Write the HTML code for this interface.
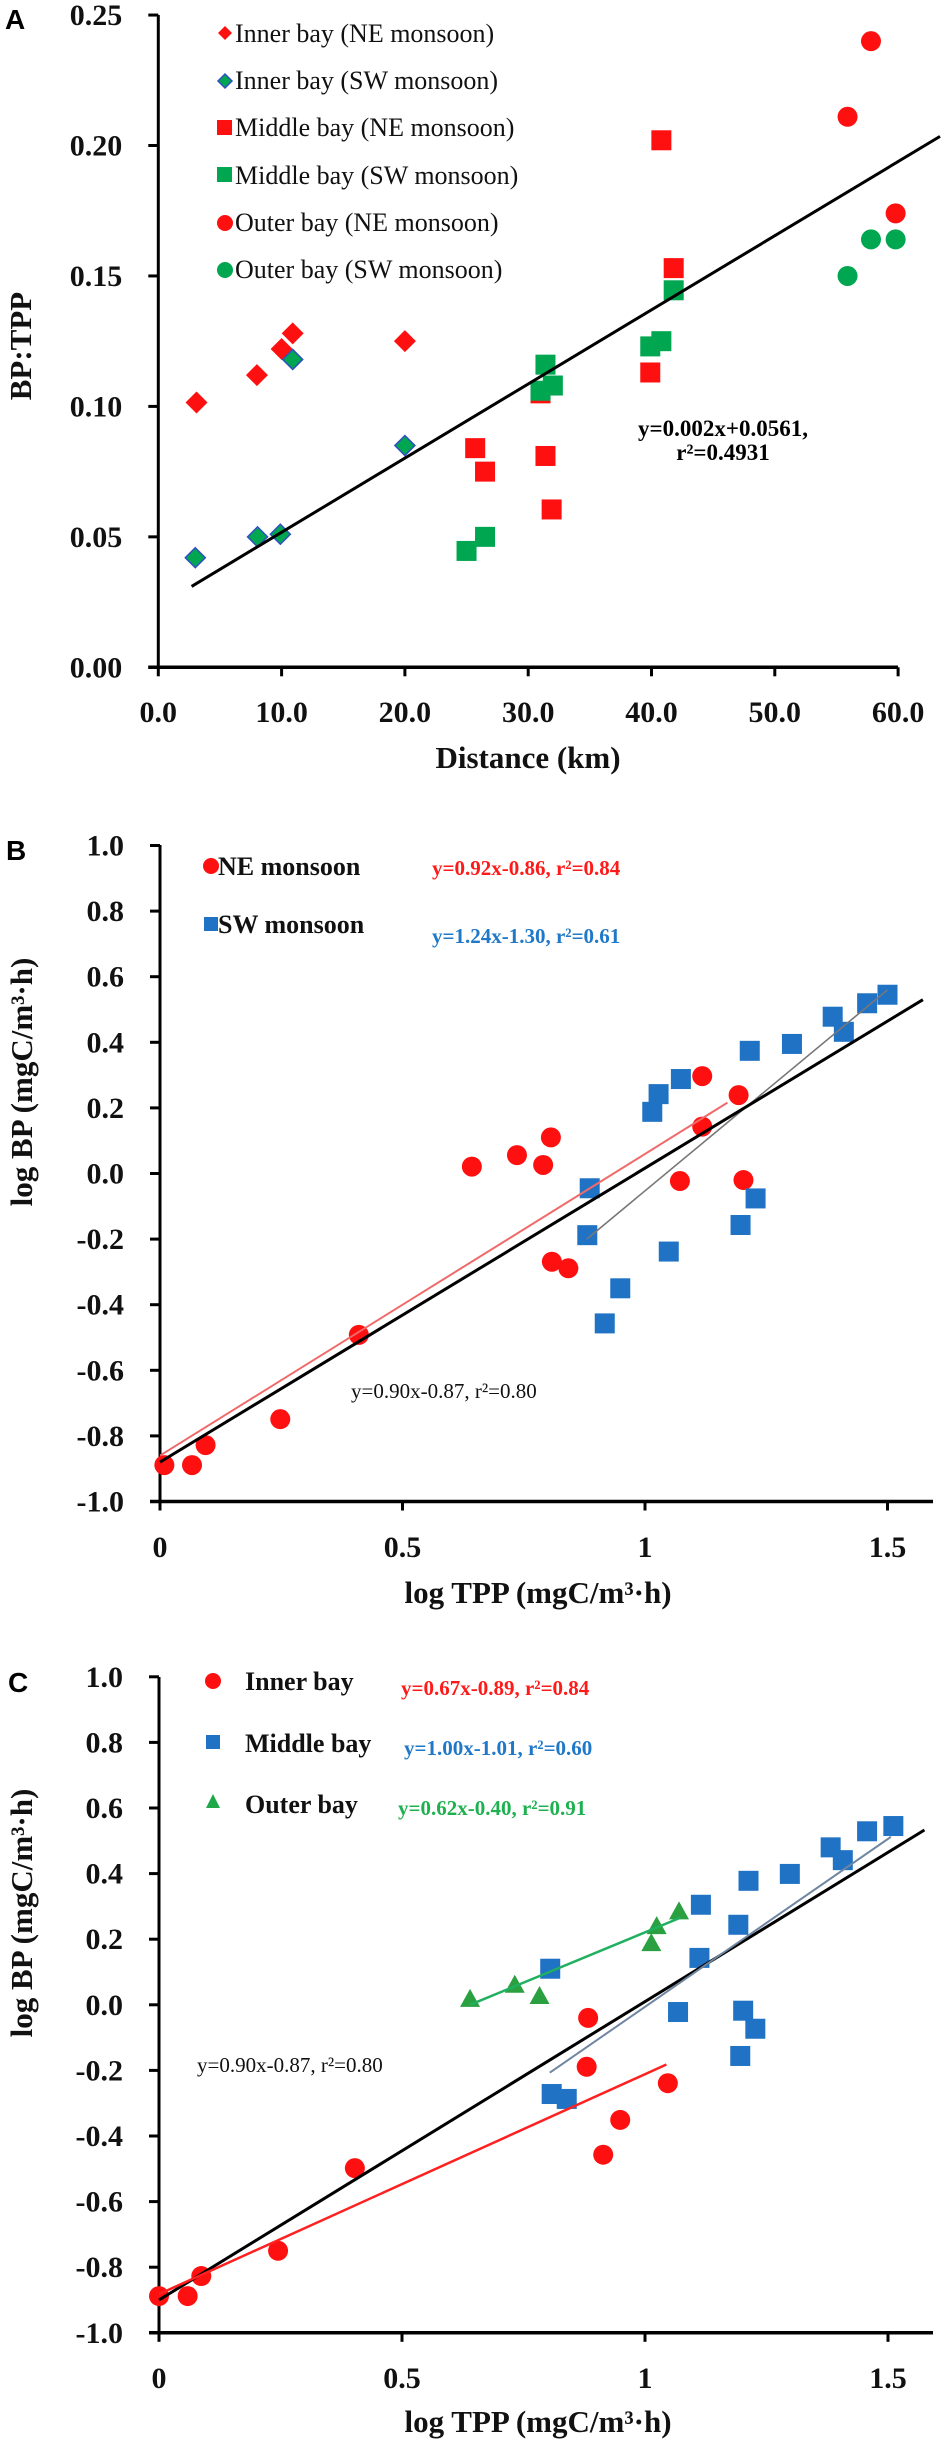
<!DOCTYPE html>
<html><head><meta charset="utf-8">
<style>
html,body{margin:0;padding:0;background:#fff;}
svg{display:block;}
text{font-family:"Liberation Serif",serif;}
.tk{font-size:30px;font-weight:bold;fill:#111;}
.ttl{font-size:31px;font-weight:bold;fill:#111;}
.lg{font-size:26px;fill:#111;}
.lgb{font-size:26px;font-weight:bold;fill:#111;}
.pl{font-family:"Liberation Sans",sans-serif;font-size:28px;font-weight:bold;fill:#000;}
</style></head>
<body>
<svg id="fig" width="950" height="2448" viewBox="0 0 950 2448" xmlns="http://www.w3.org/2000/svg">
  <text class="pl" x="5" y="29">A</text>
  <text class="pl" x="6" y="860">B</text>
  <text class="pl" x="8" y="1692">C</text>

  <text class="ttl" transform="translate(31,346) rotate(-90)" text-anchor="middle">BP:TPP</text>
  <text class="ttl" x="528" y="768" text-anchor="middle">Distance (km)</text>
  <g>
    <text class="lg" x="235" y="42">Inner bay (NE monsoon)</text>
    <text class="lg" x="235" y="89">Inner bay (SW monsoon)</text>
    <text class="lg" x="235" y="136">Middle bay (NE monsoon)</text>
    <text class="lg" x="235" y="184">Middle bay (SW monsoon)</text>
    <text class="lg" x="235" y="231">Outer bay (NE monsoon)</text>
    <text class="lg" x="235" y="278">Outer bay (SW monsoon)</text>
    <polygon points="225,26 232,33 225,40 218,33" fill="#ff1010"/>
    <polygon points="225,74 232,81 225,88 218,81" fill="#00a650" stroke="#3050c0" stroke-width="1.5"/>
    <rect x="217" y="120" width="15" height="15" fill="#ff1010"/>
    <rect x="217" y="167" width="15" height="15" fill="#00a650"/>
    <circle cx="225" cy="223" r="8" fill="#ff1010"/>
    <circle cx="225" cy="270" r="8" fill="#00a650"/>
  </g>
  <text x="723" y="436" text-anchor="middle" style="font-size:23px;font-weight:bold">y=0.002x+0.0561,</text>
  <text x="723" y="460" text-anchor="middle" style="font-size:23px;font-weight:bold">r²=0.4931</text>

  <text class="ttl" transform="translate(32,1082) rotate(-90)" text-anchor="middle">log BP (mgC/m³·h)</text>
  <text class="ttl" x="538" y="1603" text-anchor="middle">log TPP (mgC/m³·h)</text>
  <circle cx="211" cy="866" r="8" fill="#ff1010"/>
  <text class="lgb" x="218" y="875">NE monsoon</text>
  <text x="432" y="875" style="font-size:21px;font-weight:bold;fill:#ff1a1a">y=0.92x-0.86, r²=0.84</text>
  <rect x="204" y="917" width="14" height="14" fill="#1f72c4"/>
  <text class="lgb" x="218" y="933">SW monsoon</text>
  <text x="432" y="943" style="font-size:21px;font-weight:bold;fill:#1f78c8">y=1.24x-1.30, r²=0.61</text>
  <text x="351" y="1398" style="font-size:21px;fill:#111">y=0.90x-0.87,  r²=0.80</text>

  <text class="ttl" transform="translate(32,1913) rotate(-90)" text-anchor="middle">log BP (mgC/m³·h)</text>
  <text class="ttl" x="538" y="2432" text-anchor="middle">log TPP (mgC/m³·h)</text>
  <circle cx="213" cy="1681" r="8" fill="#ff1010"/>
  <text class="lgb" x="245" y="1690">Inner bay</text>
  <text x="401" y="1695" style="font-size:21px;font-weight:bold;fill:#ff1a1a">y=0.67x-0.89, r²=0.84</text>
  <rect x="206" y="1735" width="14" height="14" fill="#1f72c4"/>
  <text class="lgb" x="245" y="1752">Middle bay</text>
  <text x="404" y="1755" style="font-size:21px;font-weight:bold;fill:#1f78c8">y=1.00x-1.01, r²=0.60</text>
  <polygon points="213,1794 220,1808 206,1808" fill="#1fa84a"/>
  <text class="lgb" x="245" y="1813">Outer bay</text>
  <text x="398" y="1815" style="font-size:21px;font-weight:bold;fill:#1fb050">y=0.62x-0.40, r²=0.91</text>
  <text x="197" y="2072" style="font-size:21px;fill:#111">y=0.90x-0.87,  r²=0.80</text>
</svg>
<script>
const aXTicks = [0, 10, 20, 30, 40, 50, 60];
const aXTickLabels = ["0.0","10.0","20.0","30.0","40.0","50.0","60.0"];
const aYTicks = [0, 0.05, 0.10, 0.15, 0.20, 0.25];
const aYTickLabels = ["0.00","0.05","0.10","0.15","0.20","0.25"];
const aInnerNEx = [3.1, 8.0, 10.0, 10.9, 20.0];
const aInnerNEy = [0.1015, 0.112, 0.122, 0.128, 0.125];
const aInnerSWx = [3.0, 8.05, 9.9, 10.9, 20.0];
const aInnerSWy = [0.042, 0.050, 0.051, 0.118, 0.085];
const aMiddleNEx = [40.8, 41.8, 39.9, 31.4, 26.5, 25.7, 31.0, 31.9];
const aMiddleNEy = [0.202, 0.153, 0.113, 0.081, 0.075, 0.084, 0.105, 0.0605];
const aMiddleSWx = [41.8, 40.8, 39.9, 31.4, 32.0, 31.0, 25.0, 26.5];
const aMiddleSWy = [0.1445, 0.125, 0.123, 0.116, 0.108, 0.106, 0.0446, 0.050];
const aOuterNEx = [57.8, 55.9, 59.8];
const aOuterNEy = [0.240, 0.211, 0.174];
const aOuterSWx = [57.8, 59.8, 55.9];
const aOuterSWy = [0.164, 0.164, 0.150];
const aFitX = [2.7, 63.4];
const aFitY = [0.031, 0.2035];

const logXTicks = [0, 0.5, 1, 1.5];
const logXTickLabels = ["0","0.5","1","1.5"];
const logYTicks = [-1.0,-0.8,-0.6,-0.4,-0.2,0.0,0.2,0.4,0.6,0.8,1.0];
const logYTickLabels = ["-1.0","-0.8","-0.6","-0.4","-0.2","0.0","0.2","0.4","0.6","0.8","1.0"];
const bNEx = [0.009,0.066,0.094,0.248,0.41,0.643,0.736,0.790,0.806,0.808,0.842,1.072,1.118,1.118,1.193,1.203];
const bNEy = [-0.889,-0.889,-0.828,-0.749,-0.492,0.021,0.056,0.026,0.110,-0.269,-0.289,-0.023,0.297,0.143,0.239,-0.020];
const bSWx = [0.886,0.881,0.917,0.949,1.015,1.028,1.074,1.049,1.197,1.228,1.216,1.303,1.387,1.41,1.458,1.50];
const bSWy = [-0.045,-0.188,-0.457,-0.350,0.188,0.242,0.288,-0.238,-0.157,-0.076,0.374,0.395,0.478,0.432,0.519,0.545];
const bAllFitX = [0, 1.573];
const bAllFitY = [-0.88, 0.53];
const bNEFitX = [0, 1.17];
const bNEFitY = [-0.86, 0.216];
const bSWFitX = [0.88, 1.50];
const bSWFitY = [-0.20, 0.56];

const cInnerX = [0,0.059,0.087,0.245,0.403,0.883,0.880,1.047,0.949,0.914];
const cInnerY = [-0.888,-0.888,-0.827,-0.75,-0.498,-0.040,-0.189,-0.239,-0.351,-0.457];
const cMiddleX = [0.805,0.808,0.839,1.068,1.115,1.112,1.192,1.202,1.227,1.196,1.213,1.298,1.382,1.407,1.457,1.511];
const cMiddleY = [0.110,-0.272,-0.287,-0.022,0.305,0.143,0.244,-0.018,-0.073,-0.156,0.378,0.399,0.480,0.441,0.529,0.545];
const cOuterX = [0.640,0.732,0.783,1.013,1.024,1.070];
const cOuterY = [0.018,0.061,0.027,0.188,0.240,0.285];
const cAllFitX = [0, 1.575];
const cAllFitY = [-0.90, 0.533];
const cInnerFitX = [0, 1.044];
const cInnerFitY = [-0.882, -0.182];
const cMiddleFitX = [0.804, 1.506];
const cMiddleFitY = [-0.207, 0.512];
const cOuterFitX = [0.64, 1.072];
const cOuterFitY = [0.0, 0.265];

const NS = "http://www.w3.org/2000/svg";
const svg = document.getElementById("fig");
function mk(tag, attrs, parent) {
  const e = document.createElementNS(NS, tag);
  for (const k in attrs) e.setAttribute(k, attrs[k]);
  (parent || svg).appendChild(e);
  return e;
}

const ax = v => 158.3 + 12.33 * v;
const ay = v => 667.3 - 2609 * v;
const bx = v => 160 + 485 * v;
const by = v => 1173.5 - 328 * v;
const cx_ = v => 159 + 486 * v;
const cy_ = v => 2004.8 - 328 * v;

const RED = "#ff1010", GREEN = "#00a650", BLUE = "#1f72c4";

function drawAxes(prefix, xf, yf, xTicks, xLabels, yTicks, yLabels, xEnd, yTop, xLabY) {
  const x0 = xf(xTicks[0]), yB = yf(yTicks[0]);
  const ya = mk("line", {x1:x0, y1:yTop, x2:x0, y2:yB, stroke:"#000", "stroke-width":3});
  
  
  const xa = mk("line", {x1:x0 - 10, y1:yB, x2:xEnd, y2:yB, stroke:"#000", "stroke-width":3.5});
  
  
  for (let i = 0; i < yTicks.length; i++) {
    const y = yf(yTicks[i]);
    const t = mk("line", {x1:x0 - 10, y1:y, x2:x0, y2:y, stroke:"#000", "stroke-width":3});
    
    
    const l = mk("text", {x:x0 - 36, y:y + 10, "text-anchor":"end", class:"tk"});
    l.textContent = yLabels[i];
    
    
  }
  for (let i = 0; i < xTicks.length; i++) {
    const x = xf(xTicks[i]);
    const t = mk("line", {x1:x, y1:yB, x2:x, y2:yB + 9, stroke:"#000", "stroke-width":3});
    
    
    const l = mk("text", {x:x, y:xLabY, "text-anchor":"middle", class:"tk"});
    l.textContent = xLabels[i];
    
    
  }
}

function drawLine(name, xf, yf, xs, ys, color, w) {
  const l = mk("line", {x1:xf(xs[0]), y1:yf(ys[0]), x2:xf(xs[1]), y2:yf(ys[1]), stroke:color, "stroke-width":w});
  
  
}

function drawPoints(name, xf, yf, xs, ys, shape, fill, stroke, size) {
  const g = mk("g", {});
  
  
  for (let i = 0; i < xs.length; i++) {
    const x = xf(xs[i]), y = yf(ys[i]);
    let e;
    if (shape === "circle") e = mk("circle", {cx:x, cy:y, r:size, fill:fill}, g);
    else if (shape === "square") e = mk("rect", {x:x - size, y:y - size, width:2 * size, height:2 * size, fill:fill}, g);
    else if (shape === "diamond") e = mk("polygon", {points:`${x},${y - size} ${x + size},${y} ${x},${y + size} ${x - size},${y}`, fill:fill, stroke:stroke || "none", "stroke-width":1.5}, g);
    else e = mk("polygon", {points:`${x},${y - size} ${x + size},${y + size * 0.8} ${x - size},${y + size * 0.8}`, fill:fill}, g);
    
    
  }
}

drawAxes("a", ax, ay, aXTicks, aXTickLabels, aYTicks, aYTickLabels, 898, 15, 722);
drawPoints("a-inner-ne", ax, ay, aInnerNEx, aInnerNEy, "diamond", RED, null, 11);
drawPoints("a-inner-sw", ax, ay, aInnerSWx, aInnerSWy, "diamond", GREEN, "#3050c0", 10);
drawPoints("a-middle-ne", ax, ay, aMiddleNEx, aMiddleNEy, "square", RED, null, 10);
drawPoints("a-middle-sw", ax, ay, aMiddleSWx, aMiddleSWy, "square", GREEN, null, 10);
drawPoints("a-outer-ne", ax, ay, aOuterNEx, aOuterNEy, "circle", RED, null, 10);
drawPoints("a-outer-sw", ax, ay, aOuterSWx, aOuterSWy, "circle", GREEN, null, 10);
drawLine("a-regression-line", ax, ay, aFitX, aFitY, "#000", 3);

drawAxes("b", bx, by, logXTicks, logXTickLabels, logYTicks, logYTickLabels, 933, 845, 1557);
drawPoints("b-ne-monsoon", bx, by, bNEx, bNEy, "circle", RED, null, 10);
drawPoints("b-sw-monsoon", bx, by, bSWx, bSWy, "square", BLUE, null, 10);
drawLine("b-ne-fit-line", bx, by, bNEFitX, bNEFitY, "#f06a6a", 2);
drawLine("b-sw-fit-line", bx, by, bSWFitX, bSWFitY, "#777", 1.6);
drawLine("b-overall-fit-line", bx, by, bAllFitX, bAllFitY, "#000", 3);

drawAxes("c", cx_, cy_, logXTicks, logXTickLabels, logYTicks, logYTickLabels, 933, 1677, 2388);
drawPoints("c-inner-bay", cx_, cy_, cInnerX, cInnerY, "circle", RED, null, 10);
drawPoints("c-middle-bay", cx_, cy_, cMiddleX, cMiddleY, "square", BLUE, null, 10);
drawPoints("c-outer-bay", cx_, cy_, cOuterX, cOuterY, "triangle", "#2aa040", null, 10);
drawLine("c-overall-fit-line", cx_, cy_, cAllFitX, cAllFitY, "#000", 3);
drawLine("c-inner-fit-line", cx_, cy_, cInnerFitX, cInnerFitY, "#ff2020", 2.5);
drawLine("c-middle-fit-line", cx_, cy_, cMiddleFitX, cMiddleFitY, "#6f86a0", 2);
drawLine("c-outer-fit-line", cx_, cy_, cOuterFitX, cOuterFitY, "#20b060", 2.5);
</script>
</body></html>
